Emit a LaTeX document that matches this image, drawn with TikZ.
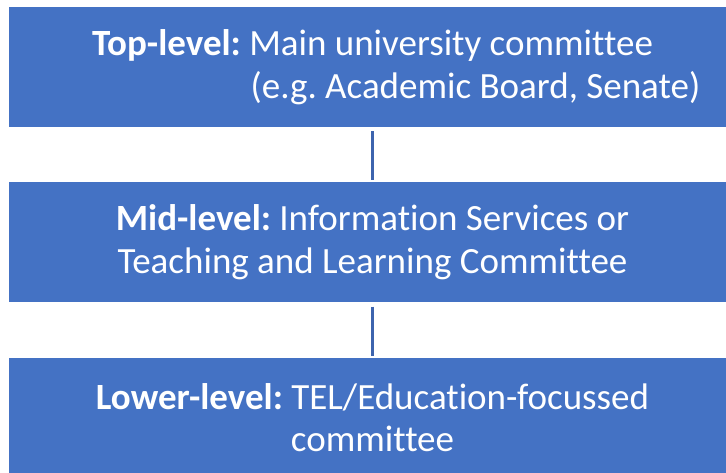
\documentclass[tikz,border=0pt]{standalone}
\usepackage{fontspec}
\setmainfont{Carlito}[Ligatures={NoCommon}]
\usepackage{tikz}
\usetikzlibrary{positioning}
\definecolor{boxblue}{HTML}{4472C4}
\definecolor{lineblue}{HTML}{3D64AE}
\newcommand{\boxgap}{55pt}
\newcommand{\boxwd}{727pt}
\newcommand{\boxht}{120pt}
\frenchspacing

\begin{document}
\begin{tikzpicture}[x=1pt,y=-1pt]
            \useasboundingbox (0,0) rectangle (726,472);
            %\draw[help lines] (0,0) grid[step=50] (726,472);
            \tikzset{LevelStyle/.style = {rectangle, fill=boxblue, draw=none, text=white,
                        minimum width=\boxwd, minimum height=\boxht, inner sep=0pt,
                        align=center, font=\fontsize{37}{42.5}\selectfont}}
            \tikzset{LinkStyle/.style = {draw=lineblue, line width=3pt, shorten <=4pt, shorten >=2pt}}
            \node[LevelStyle] (top) at (372.5,67) {\textbf{Top-level:} Main university committee\\
                        \hspace*{206pt}(e.g. Academic Board, Senate)};
            \node[LevelStyle, below=\boxgap of top] (mid) {\textbf{Mid-level:} Information Services or\\
                        Teaching and Learning Committee};
            \node[LevelStyle, below=\boxgap of mid] (low) {\textbf{Lower-level:} TEL/Education-focussed\\
                        committee};
            \draw[LinkStyle] (top) -- (mid);
            \draw[LinkStyle] (mid) -- (low);
\end{tikzpicture}
\end{document}
